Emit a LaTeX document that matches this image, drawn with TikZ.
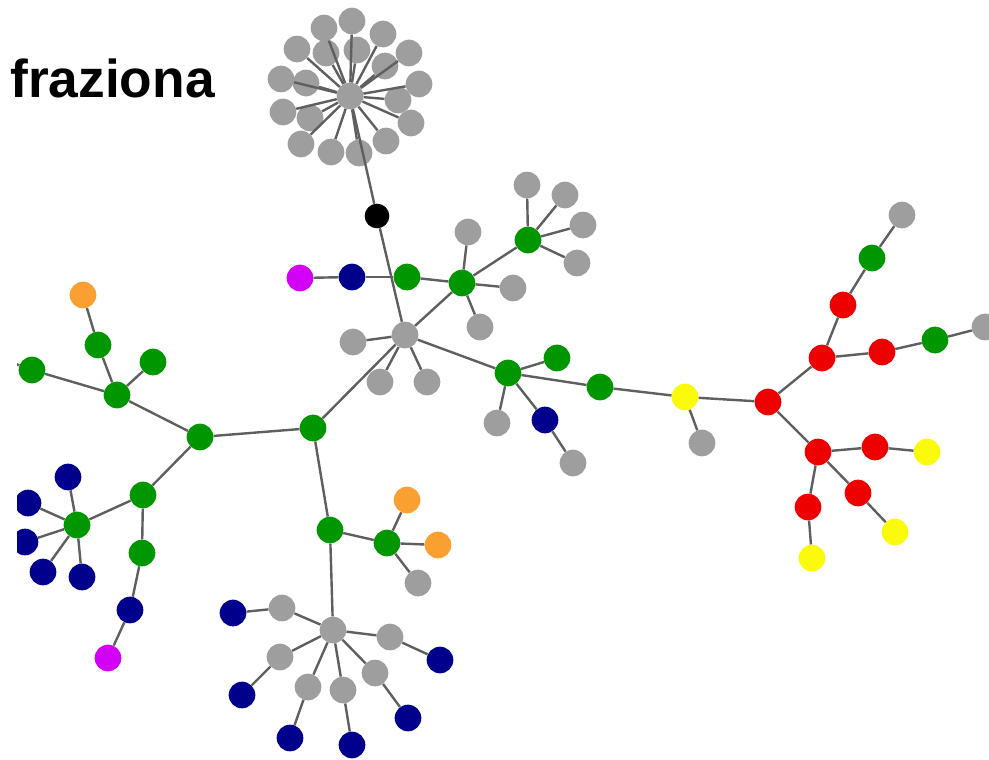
\documentclass[tikz,border=0pt]{standalone}
\usepackage{fontspec}
\setmainfont{Liberation Sans}
\definecolor{molgreen}{RGB}{0,150,0}
\definecolor{molgray}{RGB}{158,158,158}
\definecolor{molblue}{RGB}{0,0,140}
\definecolor{molred}{RGB}{238,0,0}
\definecolor{molyellow}{RGB}{250,250,10}
\definecolor{molorange}{RGB}{250,160,50}
\definecolor{molmagenta}{RGB}{210,0,245}
\definecolor{bond}{RGB}{95,95,95}
\tikzset{
  dot/.style={circle,inner sep=0pt,minimum size=20pt},
  dgreen/.style={dot,fill=molgreen},
  dgray/.style={dot,fill=molgray},
  dblue/.style={dot,fill=molblue},
  dred/.style={dot,fill=molred},
  dyellow/.style={dot,fill=molyellow},
  dorange/.style={dot,fill=molorange},
  dmagenta/.style={dot,fill=molmagenta},
  dblack/.style={dot,fill=black,minimum size=18.5pt}
}
\begin{document}
\begin{tikzpicture}[x=0.75pt,y=-0.75pt]
      \useasboundingbox (0,0) rectangle (989,760);
      \node[anchor=base west,inner sep=0pt] (title) at (10,97)
        {\fontsize{40}{48}\selectfont\bfseries fraziona};
      \begin{scope}
      \clip (17,0) rectangle (989,760);
      \draw
        (350,96) node[dgray] (0){}
        (297,49) node[dgray] (1){}
        (324,28) node[dgray] (2){}
        (352,21) node[dgray] (3){}
        (383,34) node[dgray] (4){}
        (409,53) node[dgray] (5){}
        (281,79) node[dgray] (6){}
        (306,83) node[dgray] (7){}
        (326,53) node[dgray] (8){}
        (357,50) node[dgray] (9){}
        (385,66) node[dgray] (10){}
        (419,84) node[dgray] (11){}
        (283,112) node[dgray] (12){}
        (310,118) node[dgray] (13){}
        (398,100) node[dgray] (14){}
        (411,123) node[dgray] (15){}
        (301,144) node[dgray] (16){}
        (331,152) node[dgray] (17){}
        (359,153) node[dgray] (18){}
        (386,141) node[dgray] (19){}
        (377,216) node[dblack] (20){}
        (405,335) node[dgray] (21){}
        (300,278) node[dmagenta] (22){}
        (352,277) node[dblue] (23){}
        (407,277) node[dgreen] (24){}
        (462,283) node[dgreen] (25){}
        (528,240) node[dgreen] (26){}
        (527,185) node[dgray] (27){}
        (565,195) node[dgray] (28){}
        (583,225) node[dgray] (29){}
        (577,263) node[dgray] (30){}
        (468,232) node[dgray] (31){}
        (513,288) node[dgray] (32){}
        (480,327) node[dgray] (33){}
        (353,342) node[dgray] (34){}
        (380,382) node[dgray] (35){}
        (427,382) node[dgray] (36){}
        (508,373) node[dgreen] (37){}
        (557,358) node[dgreen] (38){}
        (600,387) node[dgreen] (39){}
        (497,423) node[dgray] (40){}
        (545,420) node[dblue] (41){}
        (573,463) node[dgray] (42){}
        (313,428) node[dgreen] (43){}
        (685,397) node[dyellow] (44){}
        (702,443) node[dgray] (45){}
        (768,402) node[dred] (46){}
        (822,358) node[dred] (47){}
        (843,305) node[dred] (48){}
        (872,258) node[dgreen] (49){}
        (902,215) node[dgray] (50){}
        (882,352) node[dred] (51){}
        (935,340) node[dgreen] (52){}
        (985,327) node[dgray] (53){}
        (818,452) node[dred] (54){}
        (875,447) node[dred] (55){}
        (927,452) node[dyellow] (56){}
        (858,493) node[dred] (57){}
        (895,532) node[dyellow] (58){}
        (808,507) node[dred] (59){}
        (812,558) node[dyellow] (60){}
        (83,295) node[dorange] (61){}
        (98,345) node[dgreen] (62){}
        (153,362) node[dgreen] (63){}
        (32,370) node[dgreen] (64){}
        (117,395) node[dgreen] (65){}
        (200,437) node[dgreen] (66){}
        (143,495) node[dgreen] (67){}
        (77,525) node[dgreen] (68){}
        (68,477) node[dblue] (69){}
        (28,503) node[dblue] (70){}
        (25,542) node[dblue] (71){}
        (43,572) node[dblue] (72){}
        (82,577) node[dblue] (73){}
        (142,553) node[dgreen] (74){}
        (130,610) node[dblue] (75){}
        (108,658) node[dmagenta] (76){}
        (330,530) node[dgreen] (77){}
        (387,543) node[dgreen] (78){}
        (407,500) node[dorange] (79){}
        (438,545) node[dorange] (80){}
        (418,583) node[dgray] (81){}
        (333,630) node[dgray] (82){}
        (282,608) node[dgray] (83){}
        (233,613) node[dblue] (84){}
        (390,637) node[dgray] (85){}
        (440,660) node[dblue] (86){}
        (280,657) node[dgray] (87){}
        (242,695) node[dblue] (88){}
        (308,687) node[dgray] (89){}
        (290,738) node[dblue] (90){}
        (343,690) node[dgray] (91){}
        (352,745) node[dblue] (92){}
        (375,673) node[dgray] (93){}
        (408,718) node[dblue] (94){};
      \coordinate (95) at (0,358);
      \begin{scope}[-,draw=bond,line width=1.8pt]
        \foreach \i in {1,...,20}
          \draw (0) to (\i);
        \draw (20) to (21);
        \draw (22) to (23);
        \draw (23) to (24);
        \draw (24) to (25);
        \draw (25) to (26);
        \foreach \i in {27,...,30}
          \draw (26) to (\i);
        \foreach \i in {31,...,33}
          \draw (25) to (\i);
        \draw (21) to (25);
        \foreach \i in {34,...,37}
          \draw (21) to (\i);
        \draw (21) to (43);
        \draw (37) to (38);
        \draw (37) to (39);
        \draw (37) to (40);
        \draw (37) to (41);
        \draw (41) to (42);
        \draw (39) to (44);
        \draw (44) to (45);
        \draw (44) to (46);
        \draw (46) to (47);
        \draw (47) to (48);
        \draw (48) to (49);
        \draw (49) to (50);
        \draw (47) to (51);
        \draw (51) to (52);
        \draw (52) to (53);
        \draw (46) to (54);
        \draw (54) to (55);
        \draw (55) to (56);
        \draw (54) to (57);
        \draw (57) to (58);
        \draw (54) to (59);
        \draw (59) to (60);
        \draw (61) to (62);
        \draw (62) to (65);
        \draw (63) to (65);
        \draw (64) to (65);
        \draw (64) to (95);
        \draw (65) to (66);
        \draw (66) to (43);
        \draw (66) to (67);
        \draw (67) to (68);
        \foreach \i in {69,...,73}
          \draw (68) to (\i);
        \draw (67) to (74);
        \draw (74) to (75);
        \draw (75) to (76);
        \draw (43) to (77);
        \draw (77) to (78);
        \foreach \i in {79,...,81}
          \draw (78) to (\i);
        \draw (77) to (82);
        \foreach \i/\j in {83/84,85/86,87/88,89/90,91/92,93/94} {
          \draw (82) to (\i);
          \draw (\i) to (\j);
        }
      \end{scope}
      \end{scope}
    \end{tikzpicture}
\end{document}
